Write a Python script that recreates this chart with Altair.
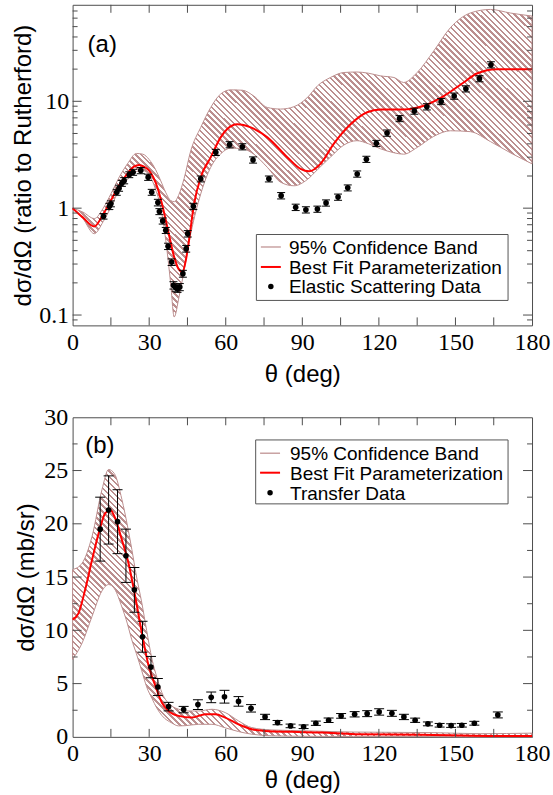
import altair as alt
import pandas as pd

# ---------------- Panel (a): elastic scattering ----------------
a_band_x = [0, 4, 8.5, 12, 15, 18, 21.5, 25, 27.5, 30, 32.5, 34.5, 36.5, 38.4, 39.8, 41.7,
            43.7, 46.3, 50.2, 54.1, 58, 62, 66.5, 71, 76.3, 81.5, 86.7, 91.9, 96, 101,
            106.3, 111.4, 116, 120.6, 125.9, 129.7, 135, 141.5, 148, 155.8, 163.7, 171.5, 180]
a_band_hi = [1.0, 0.92, 0.80, 1.0, 1.36, 1.9, 2.6, 3.25, 3.2, 2.85, 2.3, 1.81, 1.4, 1.18, 1.15, 1.35,
             1.9, 3.45, 5.7, 8.75, 11.7, 12.8, 12.7, 11.2, 8.75, 8.46, 8.9, 10.8, 14.0, 16.7,
             18.6, 18.8, 18.3, 17.3, 16.7, 15.0, 18.6, 29.6, 48.8, 67.0, 72.4, 67.0, 62.8]
a_band_lo = [1.0, 0.8, 0.577, 0.75, 1.02, 1.45, 1.85, 2.2, 2.25, 2.05, 1.5, 1.02, 0.5, 0.2, 0.096, 0.148,
             0.262, 0.577, 1.36, 2.41, 3.22, 3.65, 3.6, 3.2, 2.41, 1.75, 1.62, 1.85, 2.3, 3.0,
             3.9, 4.28, 4.0, 3.6, 3.3, 3.2, 3.7, 4.7, 5.3, 5.2, 4.2, 3.3, 2.6]

a_fit_x = [0, 4, 8.5, 12, 15, 18, 21.5, 24, 26.1, 28, 30, 33.2, 35, 37.1, 39.8, 41.5, 43, 44.5,
           45.6, 47.6, 50.2, 54.1, 58, 60.6, 64.5, 69.8, 76.3, 84.1, 89.3, 92.6, 97.1, 102.3,
           108.9, 115.4, 120.6, 129.7, 137.6, 145.4, 153.2, 158.4, 166.2, 180]
a_fit_y = [1.0, 0.82, 0.675, 0.88, 1.18, 1.6, 2.1, 2.45, 2.54, 2.45, 2.25, 1.57, 1.1, 0.665, 0.349, 0.27, 0.253, 0.34,
           0.5, 1.1, 1.95, 2.99, 4.6, 5.5, 6.1, 5.7, 4.6, 3.0, 2.33, 2.21, 2.6, 4.0,
           6.1, 7.9, 8.4, 8.4, 9.1, 11.2, 15.0, 18.2, 20.0, 20.0]

a_data_x = [12.1, 14.4, 15.0, 17.3, 18.2, 19.3, 20.2, 22.2, 23.7, 26.7, 29.6, 31.0, 33.4, 34.0, 35.3,
            36.5, 37.4, 38.8, 39.5, 40.4, 41.1, 42.0, 43.2, 44.5, 45.1, 47.3, 50.2, 56.1, 61.5, 66.5,
            70.7, 76.9, 81.7, 87.4, 91.4, 95.9, 99.3, 104.0, 107.8, 111.5, 115.1, 119.0, 123.2, 128.1,
            133.9, 138.8, 144.4, 149.5, 154.1, 159.4, 163.9]
a_data_y = [0.84, 1.04, 1.10, 1.41, 1.54, 1.71, 1.81, 2.06, 2.17, 2.25, 1.95, 1.41, 1.13, 0.93, 0.76,
            0.62, 0.44, 0.313, 0.19, 0.181, 0.177, 0.183, 0.244, 0.418, 0.577, 1.04, 1.88, 3.33, 3.93, 3.76,
            2.83, 1.88, 1.31, 1.02, 0.966, 0.98, 1.12, 1.27, 1.55, 2.09, 2.87, 4.04, 5.05, 6.9,
            8.1, 8.9, 9.96, 11.2, 13.1, 16.3, 22.0]
a_data_err = [0.05, 0.07, 0.07, 0.09, 0.1, 0.11, 0.12, 0.13, 0.14, 0.15, 0.13, 0.09, 0.08, 0.06, 0.05,
              0.04, 0.03, 0.022, 0.015, 0.014, 0.014, 0.014, 0.018, 0.03, 0.04, 0.07, 0.12, 0.22, 0.26, 0.25,
              0.19, 0.12, 0.09, 0.07, 0.065, 0.065, 0.075, 0.085, 0.1, 0.14, 0.19, 0.27, 0.34, 0.45,
              0.53, 0.6, 0.65, 0.75, 0.87, 1.07, 1.45]

# ---------------- Panel (b): transfer ----------------
b_band_x = [0, 3.7, 7.6, 11.5, 14.1, 16.4, 19.3, 21.5, 23.2, 25, 27.1, 29, 31.1, 33, 35, 38.9,
            41.5, 44.1, 49.4, 54.6, 59.8, 65, 70.2, 78.1, 92.5, 110, 140, 160, 180]
b_band_hi = [15.7, 16.3, 18.8, 23.2, 25.1, 24.7, 22.3, 19.8, 17.6, 15.1, 12.6, 10.0, 7.3, 5.6, 4.15, 2.9,
             2.6, 2.43, 2.43, 2.59, 2.28, 1.5, 0.87, 0.65, 0.56, 0.45, 0.4, 0.3, 0.35]
b_band_lo = [7.27, 8.8, 11.3, 13.7, 14.3, 13.9, 12.2, 10.6, 9.1, 7.8, 6.2, 4.7, 3.6, 2.7, 2.0, 1.3,
             1.03, 1.05, 1.18, 1.18, 0.85, 0.5, 0.25, 0.1, 0.05, 0.03, 0.03, 0.0, 0.0]

b_fit_x = [0, 2.3, 4.9, 7.6, 10.2, 12.8, 14.8, 16.7, 19.3, 21.9, 24.5, 27.1, 29.8, 32.4, 35, 37.6,
           41.5, 46.7, 52, 55.9, 59.8, 65, 70.2, 75.4, 85.9, 97.7, 110.7, 136.8, 162.9, 180]
b_fit_y = [11.0, 11.6, 13.8, 16.6, 19.1, 21.0, 21.3, 20.5, 18.5, 16.3, 13.2, 9.8, 6.65, 4.8, 3.2, 2.43,
           1.97, 1.81, 2.12, 2.12, 1.81, 1.18, 0.71, 0.56, 0.47, 0.4, 0.25, 0.2, 0.09, 0.09]

b_data_x = [10.8, 14.1, 17.6, 20.9, 24.2, 27.4, 30.7, 33.4, 37.6, 43.5, 49.1, 54.3, 59.5, 65.0, 69.9,
            75.4, 80.3, 85.4, 90.5, 95.3, 100.3, 105.2, 110.5, 115.4, 120.1, 125.1, 129.8, 134.2,
            139.2, 143.8, 148.3, 152.5, 157.4, 166.6]
b_data_y = [19.5, 21.3, 20.2, 17.0, 13.8, 9.4, 6.55, 4.68, 2.84, 2.56, 3.03, 3.71, 3.77, 3.33, 2.68,
            1.87, 1.34, 1.03, 0.95, 1.28, 1.56, 1.97, 2.12, 2.18, 2.34, 2.21, 1.87, 1.56,
            1.22, 1.09, 1.06, 1.09, 1.28, 2.06]
b_data_err = [3.0, 3.2, 3.0, 2.5, 2.1, 1.45, 1.0, 0.8, 0.4, 0.3, 0.45, 0.5, 0.6, 0.45, 0.35,
              0.25, 0.2, 0.17, 0.17, 0.2, 0.2, 0.22, 0.25, 0.28, 0.3, 0.28, 0.25, 0.2,
              0.18, 0.17, 0.17, 0.17, 0.18, 0.28]

# ---------------- Axes / labels ----------------
x_label_values = [0, 30, 60, 90, 120, 150, 180]
x_tick_values = [15, 30, 45, 60, 75, 90, 105, 120, 135, 150, 165]
a_y_major = [0.1, 1, 10]
a_y_minor = [0.09, 0.2, 0.3, 0.4, 0.5, 0.6, 0.7, 0.8, 0.9, 2, 3, 4, 5, 6, 7, 8, 9,
             20, 30, 40, 50, 60, 70]
b_y_major = [5, 10, 15, 20, 25]
b_y_minor = [2.5, 7.5, 12.5, 17.5, 22.5, 27.5]
b_y_labels = [0, 5, 10, 15, 20, 25, 30]
legend_a = ["95% Confidence Band", "Best Fit Parameterization", "Elastic Scattering Data"]
legend_b = ["95% Confidence Band", "Best Fit Parameterization", "Transfer Data"]
panel_labels = ["(a)", "(b)"]
x_title = "θ (deg)"
a_y_title = "dσ/dΩ (ratio to Rutherford)"
b_y_title = "dσ/dΩ (mb/sr)"

STRIPE = "#bc8f8f"
FRAME = "#4d4d4d"
SANS = "Liberation Sans"
SERIF = "Liberation Serif"


def hatch(n, r, duty=0.42):
    # r = bbox height / width, so that stripes run at 45 degrees in pixel space
    c = (1 + r) / (1 + r * r)
    stops = []
    for k in range(n):
        a = round(k / n, 5)
        b = round((k + duty) / n, 5)
        e = round((k + 1) / n, 5)
        stops += [{"offset": a, "color": STRIPE}, {"offset": b, "color": STRIPE},
                  {"offset": b, "color": "#ffffff"}, {"offset": e, "color": "#ffffff"}]
    return {"gradient": "linear", "x1": 0, "y1": 1, "x2": round(c, 4), "y2": round(1 - c * r, 4),
            "stops": stops}


XS = alt.Scale(domain=[0, 180], nice=False, zero=False)


def x_axis(title_pad):
    return alt.Axis(values=x_label_values, labelFlush=False, labelOverlap=False, labelPadding=5,
                    titlePadding=title_pad, ticks=False, domain=False, grid=False,
                    labelFont=SERIF, labelFontSize=24)


def panel(W, H, yscale, yaxis, ytitle, xax, bx, bhi, blo, fx, fy, dx, dy, de,
          ymaj, ymin, leg, box, rows, symx, dotx, textx, plabel, ppos, grad, cap):
    def X(f):
        return alt.X(f"{f}:Q", scale=XS, axis=xax, title=x_title)

    def Y(f):
        return alt.Y(f"{f}:Q", scale=yscale, axis=yaxis, title=ytitle)

    band_df = pd.DataFrame({"x": bx, "hi": bhi, "lo": blo})
    fit_df = pd.DataFrame({"x": fx, "y": fy})
    pts_df = pd.DataFrame({"x": dx, "y": dy,
                           "lo": [v - e for v, e in zip(dy, de)],
                           "hi": [v + e for v, e in zip(dy, de)]})
    one = pd.DataFrame({"a": [0]})

    layers = []
    layers.append(alt.Chart(band_df).mark_area(fill=grad, stroke=STRIPE, strokeWidth=1,
                                               interpolate="monotone")
                  .encode(x=X("x"), y=Y("hi"), y2=alt.Y2("lo")))
    layers.append(alt.Chart(fit_df).mark_line(color="#ff0000", strokeWidth=2, interpolate="monotone")
                  .encode(x=X("x"), y=Y("y")))
    layers.append(alt.Chart(pts_df).mark_rule(color="black", strokeWidth=1)
                  .encode(x=X("x"), y=Y("lo"), y2=alt.Y2("hi")))
    for f in ["lo", "hi"]:
        layers.append(alt.Chart(pts_df).mark_tick(orient="horizontal", color="black", size=cap,
                                                  thickness=1, opacity=1)
                      .encode(x=X("x"), y=Y(f)))
    layers.append(alt.Chart(pts_df).mark_circle(color="black", size=32, opacity=1)
                  .encode(x=X("x"), y=Y("y")))

    # inward ticks
    xt = pd.DataFrame({"v": x_tick_values})
    layers.append(alt.Chart(xt).mark_rule(color=FRAME).encode(
        x=X("v"), y=alt.value(H), y2=alt.value(H - 8)))
    layers.append(alt.Chart(xt).mark_rule(color=FRAME).encode(
        x=X("v"), y=alt.value(0), y2=alt.value(8)))
    for vals, ln in [(ymaj, 9), (ymin, 5)]:
        yt = pd.DataFrame({"v": vals})
        layers.append(alt.Chart(yt).mark_rule(color=FRAME).encode(
            y=Y("v"), x=alt.value(0), x2=alt.value(ln)))
        layers.append(alt.Chart(yt).mark_rule(color=FRAME).encode(
            y=Y("v"), x=alt.value(W), x2=alt.value(W - ln)))

    # panel label
    layers.append(alt.Chart(pd.DataFrame({"t": [plabel]})).mark_text(
        align="left", baseline="middle", font=SANS, fontSize=24, color="black")
        .encode(text="t:N", x=alt.value(ppos[0]), y=alt.value(ppos[1])))

    # legend
    x0, x1, y0, y1 = box
    layers.append(alt.Chart(one).mark_rect(fill="white", stroke="#555555", strokeWidth=1)
                  .encode(x=alt.value(x0), x2=alt.value(x1), y=alt.value(y0), y2=alt.value(y1)))
    layers.append(alt.Chart(one).mark_rule(color="#c9a3a3", strokeWidth=1.5)
                  .encode(x=alt.value(symx[0]), x2=alt.value(symx[1]), y=alt.value(rows[0])))
    layers.append(alt.Chart(one).mark_rule(color="#ff0000", strokeWidth=2)
                  .encode(x=alt.value(symx[0]), x2=alt.value(symx[1]), y=alt.value(rows[1])))
    layers.append(alt.Chart(one).mark_circle(color="black", size=30, opacity=1)
                  .encode(x=alt.value(dotx), y=alt.value(rows[2])))
    for i, lab in enumerate(leg):
        layers.append(alt.Chart(pd.DataFrame({"t": [lab]})).mark_text(
            align="left", baseline="middle", font=SANS, fontSize=19, color="black")
            .encode(text="t:N", x=alt.value(textx), y=alt.value(rows[i] + 1)))

    return alt.layer(*layers).properties(width=W, height=H)


a_scale = alt.Scale(type="log", domain=[0.08, 80], nice=False)
a_axis = alt.Axis(values=a_y_major, format="~g", labelPadding=4, titlePadding=3,
                  ticks=False, domain=False, grid=False, labelOverlap=False,
                  labelFont=SERIF, labelFontSize=24)
b_scale = alt.Scale(domain=[0, 30], nice=False, zero=False)
b_axis = alt.Axis(values=b_y_labels, labelPadding=5, titlePadding=5,
                  ticks=False, domain=False, grid=False, labelOverlap=False,
                  labelFont=SERIF, labelFontSize=24)

top = panel(460, 321, a_scale, a_axis, a_y_title, x_axis(8),
            a_band_x, a_band_hi, a_band_lo, a_fit_x, a_fit_y, a_data_x, a_data_y, a_data_err,
            a_y_major, a_y_minor, legend_a, (184, 436, 230, 296), (242.5, 262.5, 282),
            (188.5, 208.5), 198.5, 216.6, panel_labels[0], (15, 40),
            hatch(130, 309 / 460), 8)

bottom = panel(460, 320, b_scale, b_axis, b_y_title, x_axis(3),
               b_band_x, b_band_hi, b_band_lo, b_fit_x, b_fit_y, b_data_x, b_data_y, b_data_err,
               b_y_major, b_y_minor, legend_b, (183.3, 436, 22.7, 86.7), (36, 55.5, 75.5),
               (187.7, 207.7), 197.7, 217.7, panel_labels[1], (12.7, 28.5),
               hatch(123, 268 / 460), 10)

chart = (alt.vconcat(top, bottom, spacing=17)
         .properties(padding={"left": 10.7, "top": 3.3, "right": 2, "bottom": 2})
         .configure_view(stroke=FRAME, strokeWidth=1)
         .configure_axis(labelColor="black",
                         titleFont=SANS, titleFontSize=24, titleFontWeight="normal",
                         titleColor="black"))

chart.save("out.html", embed_options={"renderer": "svg", "actions": False})
